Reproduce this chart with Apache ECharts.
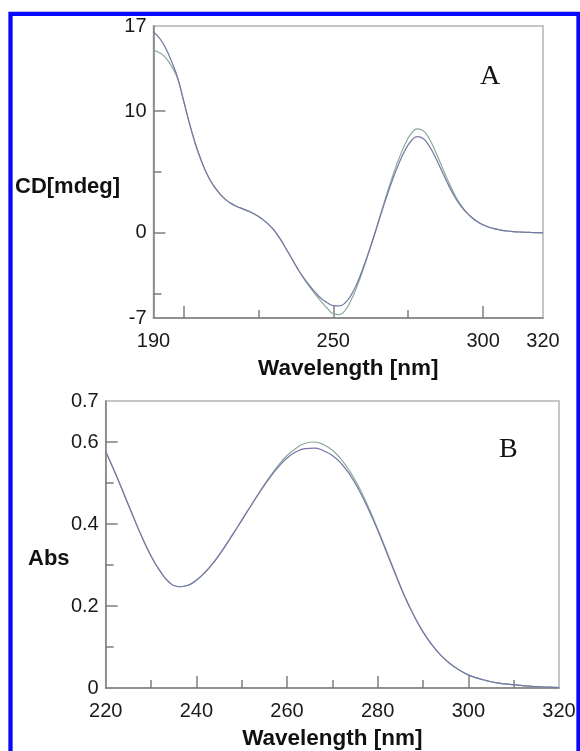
<!DOCTYPE html>
<html>
<head>
<meta charset="utf-8">
<script src="https://cdn.jsdelivr.net/npm/echarts@6/dist/echarts.min.js"></script>
<style>
html,body{margin:0;padding:0;background:#fff;}
#c{width:580px;height:751px;}
</style>
</head>
<body>
<div id="c"></div>
<script>
// ---- Panel A (CD spectrum) ----
const wlA = [190,192,194,196,198,200,202,204,206,208,210,212,214,216,218,220,222,224,226,228,230,232,234,236,238,240,242,244,246,248,250,252,254,256,258,260,262,264,266,268,270,272,274,276,278,280,282,284,286,288,290,292,294,296,298,300,302,304,306,308,310,312,314,316,318,320];
const cdBlue = [16.5,16.0,15.2,14.1,12.8,10.9,9.0,7.3,5.9,4.75,3.9,3.25,2.75,2.4,2.15,1.95,1.75,1.5,1.18,0.78,0.28,-0.4,-1.2,-2.05,-2.9,-3.65,-4.3,-4.9,-5.4,-5.75,-5.98,-6.0,-5.75,-5.1,-4.1,-2.85,-1.45,0.05,1.6,3.1,4.5,5.75,6.8,7.55,7.9,7.75,7.15,6.25,5.2,4.15,3.2,2.4,1.78,1.3,0.93,0.66,0.46,0.32,0.22,0.15,0.1,0.07,0.05,0.03,0.015,0.0];
const cdGreen = [15.0,14.8,14.4,13.7,12.7,10.9,9.0,7.3,5.9,4.75,3.9,3.25,2.75,2.4,2.15,1.95,1.75,1.5,1.18,0.78,0.28,-0.4,-1.2,-2.05,-2.9,-3.7,-4.4,-5.05,-5.65,-6.2,-6.65,-6.72,-6.35,-5.5,-4.35,-3.0,-1.5,0.05,1.7,3.3,4.8,6.15,7.3,8.15,8.55,8.4,7.75,6.75,5.6,4.45,3.4,2.5,1.82,1.32,0.94,0.66,0.46,0.32,0.22,0.15,0.1,0.07,0.05,0.03,0.015,0.0];
const xA_labels = [190,250,300,320];
const xA_major = [200,250,300];
const xA_minor = [225,275];
const yA_labels = [-7,0,10,17];
const yA_major = [0,10];
const yA_minor = [-5,5];

// ---- Panel B (absorbance) ----
const wlB = [220,222,224,226,228,230,232,234,236,238,240,242,244,246,248,250,252,254,256,258,260,262,264,266,268,270,272,274,276,278,280,282,284,286,288,290,292,294,296,298,300,302,304,306,308,310,312,314,316,318,320];
const absBlue = [0.577,0.527,0.474,0.42,0.368,0.322,0.285,0.258,0.247,0.25,0.263,0.283,0.309,0.34,0.374,0.409,0.444,0.478,0.51,0.538,0.561,0.576,0.584,0.585,0.579,0.567,0.547,0.518,0.48,0.435,0.385,0.33,0.275,0.222,0.176,0.137,0.105,0.079,0.059,0.044,0.032,0.024,0.018,0.013,0.01,0.008,0.006,0.004,0.003,0.002,0.001];
const absGreen = [0.577,0.527,0.474,0.42,0.368,0.322,0.285,0.258,0.247,0.25,0.263,0.283,0.309,0.34,0.374,0.409,0.444,0.479,0.512,0.542,0.567,0.585,0.597,0.6,0.594,0.58,0.557,0.526,0.487,0.44,0.388,0.333,0.277,0.223,0.177,0.137,0.105,0.079,0.059,0.044,0.032,0.024,0.018,0.013,0.01,0.008,0.006,0.004,0.003,0.002,0.001];
const xB_labels = [220,240,260,280,300,320];
const xB_major = [240,260,280,300];
const xB_minor = [230,250,270,290,310];
const yB_labels = [0,0.2,0.4,0.6,0.7];
const yB_major = [0.2,0.4,0.6];
const yB_minor = [0.1,0.3,0.5];

const zip = (xs, ys) => xs.map((x, i) => [x, ys[i]]);

const FONT = 'Liberation Sans, Arial, sans-serif';
const AXIS_COLOR = '#7f7f7f';
const BLUE = '#7676a8';
const GREEN = '#8aab98';

function mainAxis(gridIndex, min, max, labels, ticks, margin, extra) {
  return Object.assign({
    type: 'value', gridIndex, min, max,
    axisLine: { show: true, onZero: false, lineStyle: { color: AXIS_COLOR, width: 1.5 } },
    axisTick: { show: true, inside: true, length: 12, customValues: ticks, lineStyle: { color: AXIS_COLOR, width: 1.5 } },
    axisLabel: { show: true, customValues: labels, color: '#1a1a1a', fontSize: 20, fontFamily: FONT, margin: margin },
    splitLine: { show: false }
  }, extra || {});
}
function minorAxis(gridIndex, min, max, ticks, extra) {
  return Object.assign({
    type: 'value', gridIndex, min, max,
    axisLine: { show: false, onZero: false },
    axisTick: { show: true, inside: true, length: 8, customValues: ticks, lineStyle: { color: AXIS_COLOR, width: 1.5 } },
    axisLabel: { show: false },
    splitLine: { show: false }
  }, extra || {});
}

const nameStyle = { fontSize: 22.5, fontWeight: 'bold', fontFamily: FONT, color: '#111' };

const option = {
  backgroundColor: '#fff',
  animation: false,
  grid: [
    { left: 153.5, top: 26, width: 389.5, height: 292, show: true, borderColor: '#b4b4b4', borderWidth: 1.5, backgroundColor: 'transparent' },
    { left: 105.7, top: 401, width: 453.3, height: 289, show: true, borderColor: '#b4b4b4', borderWidth: 1.5, backgroundColor: 'transparent' }
  ],
  xAxis: [
    mainAxis(0, 190, 320, xA_labels, xA_major, 13, { position: 'bottom', name: 'Wavelength [nm]', nameLocation: 'middle', nameGap: 39, nameTextStyle: nameStyle }),
    minorAxis(0, 190, 320, xA_minor, { position: 'bottom' }),
    mainAxis(1, 220, 320, xB_labels, xB_major, 13, { position: 'bottom', name: 'Wavelength [nm]', nameLocation: 'middle', nameGap: 39, nameTextStyle: nameStyle }),
    minorAxis(1, 220, 320, xB_minor, { position: 'bottom' })
  ],
  yAxis: [
    mainAxis(0, -7, 17, yA_labels, yA_major, 7, { position: 'left' }),
    minorAxis(0, -7, 17, yA_minor, { position: 'left' }),
    mainAxis(1, 0, 0.7, yB_labels, yB_major, 7, { position: 'left' }),
    minorAxis(1, 0, 0.7, yB_minor, { position: 'left' })
  ],
  series: [
    { type: 'line', xAxisIndex: 0, yAxisIndex: 0, data: zip(wlA, cdGreen), smooth: true, showSymbol: false, lineStyle: { color: GREEN, width: 1.2 }, z: 3 },
    { type: 'line', xAxisIndex: 0, yAxisIndex: 0, data: zip(wlA, cdBlue), smooth: true, showSymbol: false, lineStyle: { color: BLUE, width: 1.2 }, z: 4 },
    { type: 'line', xAxisIndex: 2, yAxisIndex: 2, data: zip(wlB, absGreen), smooth: true, showSymbol: false, lineStyle: { color: GREEN, width: 1.2 }, z: 3 },
    { type: 'line', xAxisIndex: 2, yAxisIndex: 2, data: zip(wlB, absBlue), smooth: true, showSymbol: false, lineStyle: { color: BLUE, width: 1.2 }, z: 4 }
  ],
  graphic: [
    { type: 'rect', shape: { x: 10.5, y: 13.8, width: 568, height: 800 }, style: { fill: 'none', stroke: '#0808ff', lineWidth: 4.3 }, z: 100 },
    { type: 'text', left: 15, top: 176, style: { text: 'CD[mdeg]', font: 'bold 22px ' + FONT, fill: '#111' } },
    { type: 'text', left: 28, top: 548, style: { text: 'Abs', font: 'bold 22px ' + FONT, fill: '#111' } },
    { type: 'text', left: 480, top: 63, style: { text: 'A', font: '28px Liberation Serif, Times New Roman, serif', fill: '#111' } },
    { type: 'text', left: 499, top: 436, style: { text: 'B', font: '28px Liberation Serif, Times New Roman, serif', fill: '#111' } }
  ]
};

const chart = echarts.init(document.getElementById('c'), null, { renderer: 'canvas' });
chart.setOption(option);
</script>
</body>
</html>
